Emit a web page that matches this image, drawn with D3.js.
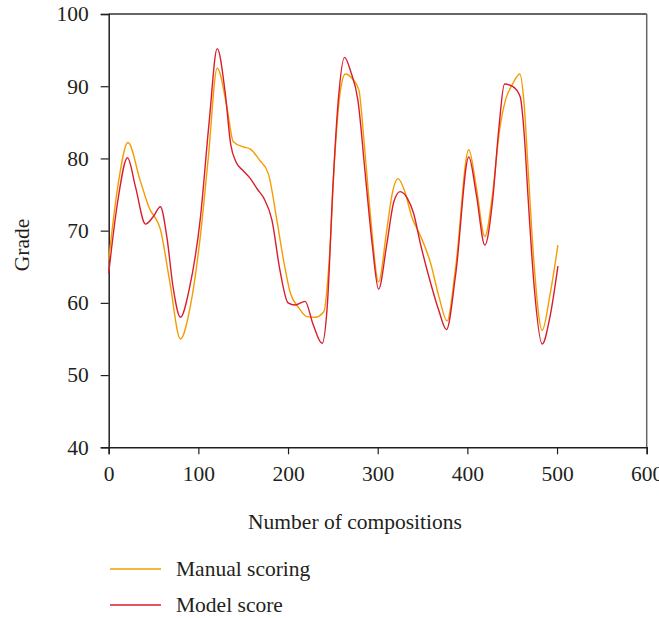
<!DOCTYPE html>
<html>
<head>
<meta charset="utf-8">
<script src="https://cdn.jsdelivr.net/npm/d3@7"></script>
<style>
  body { margin: 0; background: #fff; }
  svg text { font-family: 'Liberation Serif', 'DejaVu Serif', serif; fill: #231f20; }
</style>
</head>
<body>
<div id="chart"></div>
<script>
// key points (x = composition number, y = grade)
var manualX = [0, 10, 21.5, 35, 45, 58, 68, 80, 91, 102, 111, 121, 132, 139, 150, 158, 168, 178, 187.5, 195, 202.5, 212, 221, 230, 240, 246, 252, 258, 264, 272, 279, 285, 292, 301, 310, 316, 322.7, 330, 338, 348, 359, 368, 377.4, 387, 401.6, 410, 419.5, 428, 436, 442.6, 450, 458.5, 463, 468, 474, 483.5, 492, 501];
var manualY = [65.9, 76, 82.2, 77, 73.2, 70, 63, 55.0, 59.5, 69, 80, 92.5, 87, 82.3, 81.6, 81.3, 79.8, 77.9, 71.5, 65.9, 61.4, 59.3, 58.1, 58.0, 58.8, 66, 80, 89, 91.7, 91, 89.5, 82, 72, 62.9, 70, 75, 77.2, 75.5, 71.9, 69.2, 65.5, 61, 57.5, 65, 81.2, 76, 69.2, 75, 84, 88.1, 90.2, 91.7, 88, 78, 66, 56.2, 61, 68.0];

var modelX = [0, 10, 21, 30, 41, 50, 57.6, 65, 72, 80, 90, 102, 112, 121, 130, 136, 142, 150, 158, 166, 173, 182, 191, 200, 208, 219, 228, 238, 244, 250, 256, 263, 270, 278, 286, 294, 301, 310, 318, 325, 333, 340, 348, 358, 368, 376.7, 387, 401.6, 410, 419.5, 428, 435, 441.4, 450, 459, 463, 468, 474, 483.5, 492, 501];
var modelY = [64.1, 74, 80.1, 76, 70.9, 72, 73.3, 69, 62, 58.0, 62, 71.5, 85, 95.2, 89, 82, 79.5, 78.3, 77.2, 75.7, 74.5, 71.5, 64.5, 60, 59.7, 60.2, 57, 54.4, 60, 76, 88, 94.0, 92, 88, 78, 68, 61.9, 68, 74, 75.4, 74.5, 72.4, 68, 63.2, 59, 56.3, 64, 80.2, 75, 68.0, 74, 84, 90.3, 90, 88.5, 84, 74, 63, 54.3, 58, 65.1];

var xTicks = [0, 100, 200, 300, 400, 500, 600];
var yTicks = [40, 50, 60, 70, 80, 90, 100];
var seriesNames = ["Manual scoring", "Model score"];
var seriesColors = ["#f59c00", "#d81e2c"];

var width = 659, height = 618;
var margin = {left: 108.7, right: 12.3, top: 14, bottom: 170.7};
var fontSize = 21.5;

var svg = d3.select("#chart").append("svg")
  .attr("width", width)
  .attr("height", height);

var x = d3.scaleLinear().domain([0, 600]).range([margin.left, width - margin.right]);
var y = d3.scaleLinear().domain([40, 100]).range([height - margin.bottom, margin.top]);

// frame: top and right
svg.append("line")
  .attr("x1", x(0)).attr("x2", x(600))
  .attr("y1", y(100)).attr("y2", y(100))
  .attr("stroke", "#333").attr("stroke-width", 1.5);
svg.append("line")
  .attr("x1", x(600)).attr("x2", x(600))
  .attr("y1", y(100)).attr("y2", y(40))
  .attr("stroke", "#666").attr("stroke-width", 1.5);

var xAxis = svg.append("g")
  .attr("transform", "translate(0," + y(40) + ")")
  .call(d3.axisBottom(x).tickValues(xTicks).tickSize(7).tickPadding(11).tickFormat(d3.format("d")));
var yAxis = svg.append("g")
  .attr("transform", "translate(" + x(0) + ",0)")
  .call(d3.axisLeft(y).tickValues(yTicks).tickSize(8).tickPadding(12).tickFormat(d3.format("d")));

[xAxis, yAxis].forEach(function(g) {
  g.attr("font-family", null).attr("font-size", null);
  g.select(".domain").attr("stroke", "#231f20").attr("stroke-width", 1.5);
  g.selectAll(".tick line").attr("stroke", "#231f20").attr("stroke-width", 1.2);
  g.selectAll(".tick text").attr("font-size", fontSize).attr("fill", "#231f20");
});

var series = [
  {name: seriesNames[0], color: seriesColors[0], pts: d3.zip(manualX, manualY)},
  {name: seriesNames[1], color: seriesColors[1], pts: d3.zip(modelX, modelY)}
];

var line = d3.line()
  .x(function(d) { return x(d[0]); })
  .y(function(d) { return y(d[1]); })
  .curve(d3.curveMonotoneX);

svg.selectAll("path.series")
  .data(series)
  .enter().append("path")
  .attr("class", "series")
  .attr("fill", "none")
  .attr("stroke", function(d) { return d.color; })
  .attr("stroke-width", 1.4)
  .attr("d", function(d) { return line(d.pts); });

// axis titles
svg.append("text")
  .attr("x", 355).attr("y", 529)
  .attr("text-anchor", "middle")
  .attr("font-size", fontSize)
  .text("Number of compositions");

svg.append("text")
  .attr("transform", "translate(29,245) rotate(-90)")
  .attr("text-anchor", "middle")
  .attr("font-size", fontSize)
  .text("Grade");

// legend
var legend = svg.selectAll("g.legend")
  .data(series)
  .enter().append("g")
  .attr("class", "legend")
  .attr("transform", function(d, i) { return "translate(110," + (569 + i * 36) + ")"; });

legend.append("line")
  .attr("x1", 0).attr("x2", 51)
  .attr("stroke", function(d) { return d.color; })
  .attr("stroke-width", 1.4);

legend.append("text")
  .attr("x", 66).attr("y", 7)
  .attr("font-size", fontSize)
  .text(function(d) { return d.name; });
</script>
</body>
</html>
